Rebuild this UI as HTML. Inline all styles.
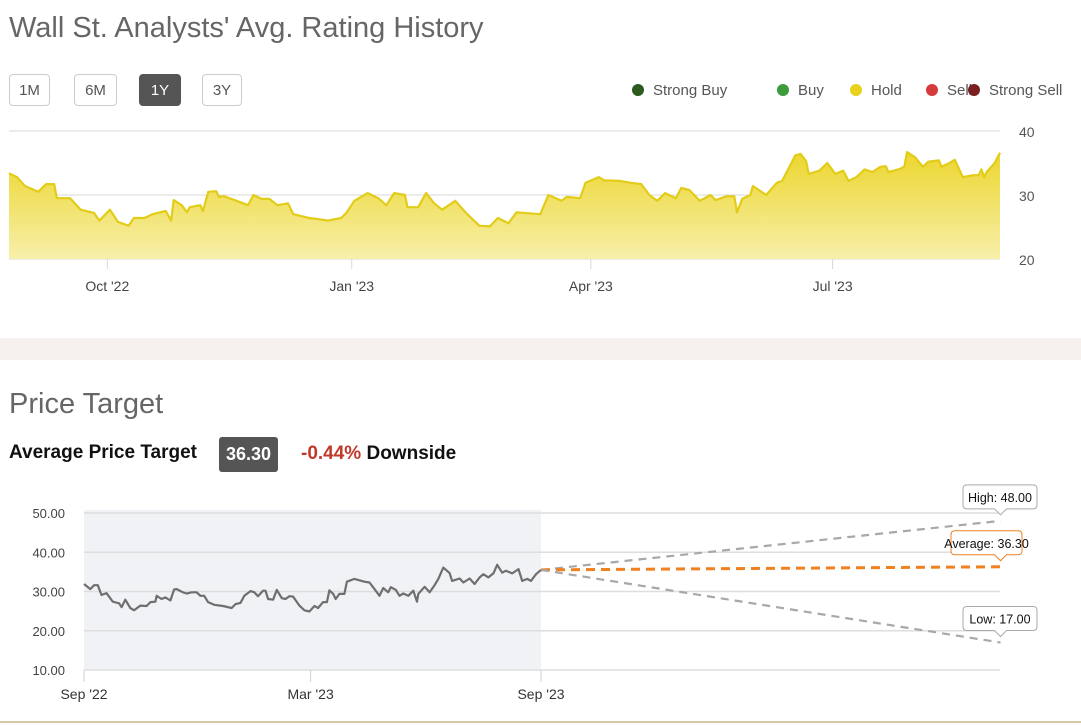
<!DOCTYPE html>
<html><head><meta charset="utf-8">
<style>
body{margin:0;width:1081px;height:725px;background:#fff;font-family:"Liberation Sans",sans-serif;position:relative;overflow:hidden}
.abs{position:absolute}
.title{font-size:29px;color:#666;left:9px;white-space:nowrap}
.btn{position:absolute;top:74px;height:32px;border:1px solid #ccc;border-radius:4px;font-size:15px;color:#555;text-align:center;line-height:32px;box-sizing:border-box;background:#fff}
.btn.on{background:#555;color:#fff;border-color:#555}
.leg{position:absolute;top:82px;font-size:15px;color:#555;white-space:nowrap}
.leg i{display:inline-block;width:12px;height:12px;border-radius:50%;margin-right:9px;vertical-align:-1px}
svg text{font-family:"Liberation Sans",sans-serif}
</style></head><body>
<div class="abs title" style="top:12px">Wall St. Analysts' Avg. Rating History</div>
<div class="btn" style="left:9px;width:41px">1M</div>
<div class="btn" style="left:74px;width:43px">6M</div>
<div class="btn on" style="left:139px;width:42px">1Y</div>
<div class="btn" style="left:202px;width:40px">3Y</div>
<div class="leg" style="left:632px"><i style="background:#2c5a1f"></i>Strong Buy</div>
<div class="leg" style="left:777px"><i style="background:#3d9a3d"></i>Buy</div>
<div class="leg" style="left:850px"><i style="background:#e8d21e"></i>Hold</div>
<div class="leg" style="left:926px"><i style="background:#d63a3a"></i>Sell</div>
<div class="leg" style="left:968px"><i style="background:#7a1f1f"></i>Strong Sell</div>

<svg class="abs" style="left:0;top:0" width="1081" height="330" id="top">
<defs><linearGradient id="yg" x1="0" y1="0" x2="0" y2="1"><stop offset="0" stop-color="#ecd62e"/><stop offset="1" stop-color="#f7efaa"/></linearGradient></defs>
</svg>

<div class="abs" style="left:0;top:338px;width:1081px;height:22px;background:#f6f0ef"></div>
<div class="abs title" style="top:388px">Price Target</div>
<div class="abs" style="left:9px;top:442px;font-size:19px;font-weight:bold;color:#111">Average Price Target</div>
<div class="abs" style="left:219px;top:437px;width:59px;height:35px;background:#555;border-radius:3px;color:#fff;font-weight:bold;font-size:18px;text-align:center;line-height:35px">36.30</div>
<div class="abs" style="left:301px;top:443px;font-size:19px;font-weight:bold;color:#111;white-space:nowrap"><span style="color:#c0392b">-0.44%</span> Downside</div>

<svg class="abs" style="left:0;top:470px" width="1081" height="250" id="bot"></svg>
<div class="abs" style="left:0;top:721px;width:1081px;height:2px;background:#d9c9a8"></div>

<script>
// ---- Rating history data ----
const ratingDays=[0,3,6,11,14,17,18,23,27,32,34,38,41,45,47,51,54,59,61,62,65,67,68,72,73,75,78,79,81,85,90,92,95,98,101,105,107,113,117,120,125,127,130,135,139,142,145,149,150,154,157,160,163,168,172,177,181,184,188,191,200,203,208,210,215,217,222,224,230,234,238,241,244,247,251,253,256,260,264,266,270,273,274,276,279,280,285,289,291,292,296,298,300,301,305,308,311,314,316,319,322,325,328,330,331,334,336,337,338,341,344,346,350,351,354,356,359,363,365,366,367,368,371,373];
const ratingValues=[33.4,32.8,31.4,30.5,31.7,31.7,29.5,29.5,27.7,27.2,26,27.7,25.8,25.2,26.4,26.4,27,27.5,26,29.2,28.4,27.3,28.1,28.4,27.5,30.5,30.6,29.7,29.8,29.2,28.4,30,29.4,29.4,28.4,28.7,27,26.4,26.2,26,26.4,27.2,29.1,30.3,29.5,28.4,30.3,30,28.1,28.1,30.3,28.7,27.7,29.1,27.2,25.2,25.1,26.4,25.6,27.3,27,30,29.1,29.7,29.5,31.9,32.8,32.3,32.2,31.9,31.7,30,29.1,30.3,29.5,31.1,30.8,29.1,30,29.2,29.8,29.8,27.3,29.4,30,31.4,30,31.9,32.2,33,36.2,36.4,35.3,33.3,33.8,35,33.3,33.8,32.2,32.8,34,33.6,34.4,34.5,33.6,33.9,34.2,34.5,36.7,35.9,34.4,35.2,35.4,34.4,35,35.5,32.8,33.1,33.1,34,32.8,33.6,35,36.6];
const ratingTickLabels=["Oct '22","Jan '23","Apr '23","Jul '23"];
const ratingTickDays=[37,129,219,310];
const ratingYTicks=[20,30,40];

// ---- Price target data ----
const priceDays=[0,5,8,11,14,18,23,28,30,33,37,40,45,50,53,57,58,62,65,69,72,74,79,82,86,90,93,96,99,104,111,118,121,125,128,133,136,139,143,145,147,151,154,158,161,164,167,172,176,180,184,187,191,194,196,199,201,204,208,210,216,224,228,232,236,239,243,245,249,252,255,259,263,266,267,272,276,280,283,287,292,294,300,303,308,312,316,319,323,327,330,334,337,342,347,350,354,357,361,365];
const priceValues=[31.9,30.6,31.6,31.6,29.1,29.6,27.4,27,26,27.9,25.8,25.2,26.4,26.3,27.3,27.4,28.9,28.1,28.5,27.7,30.5,30.6,29.8,29.5,29.8,29.8,28.9,28.9,27.3,26.6,26.3,25.8,26.8,27.1,28.9,30.1,29.8,28.8,30.2,30.2,28.1,27.9,30.4,28.3,28.1,28.8,28.7,26.4,25.2,24.9,26.3,25.8,27.3,27.3,30.3,29.4,28.1,29.4,29.4,32.5,33.2,32.5,32.3,30.6,28.9,30.9,29.8,31.1,30.4,28.9,29.5,28.9,30.2,27.4,29.4,31.2,29.8,31.6,33.2,36.1,34.7,32.7,33.3,32.3,33.3,31.9,33.6,34.4,33.6,34.6,36.8,34.8,35.3,34.6,35.7,32.7,33.2,32.7,34.4,35.5];
const priceXTickLabels=["Sep '22","Mar '23","Sep '23"];
const priceXTickDays=[0,181,365];
const priceYTicks=[10,20,30,40,50];
const targetNames=["High","Average","Low"];
const targetValues=[48,36.3,17];
const projectionEndDay=732;

const NS="http://www.w3.org/2000/svg";
function mk(p,tag,attrs){const e=document.createElementNS(NS,tag);for(const k in attrs)e.setAttribute(k,attrs[k]);p.appendChild(e);return e;}

// ---- top chart ----
(function(){
const s=document.getElementById('top');
const X=d=>9+d*(991/373), Y=v=>259-(v-20)*6.4;
ratingYTicks.forEach(v=>{
 const g=mk(s,'line',{x1:9,x2:1000,y1:Y(v),y2:Y(v),stroke:'#d8d8d8','stroke-width':1});
 
 
 const t=mk(s,'text',{x:1019,y:Y(v)+6,'font-size':14,fill:'#555'});t.textContent=v;
 
 
});
let pts=ratingDays.map((d,i)=>X(d).toFixed(1)+','+Y(ratingValues[i]).toFixed(1));
const area=mk(s,'path',{d:'M'+X(ratingDays[0])+','+Y(20)+' L'+pts.join(' L')+' L'+X(ratingDays[ratingDays.length-1])+','+Y(20)+' Z',fill:'url(#yg)'});


const ln=mk(s,'polyline',{points:pts.join(' '),fill:'none',stroke:'#e2cc18','stroke-width':2.2,'stroke-linejoin':'round'});


ratingTickDays.forEach((d,i)=>{
 const tk=mk(s,'line',{x1:X(d),x2:X(d),y1:259,y2:269,stroke:'#d8d8d8'});
 
 
 const t=mk(s,'text',{x:X(d),y:291,'font-size':14,fill:'#444','text-anchor':'middle'});t.textContent=ratingTickLabels[i];
 
 
});
})();

// ---- bottom chart ----
(function(){
const s=document.getElementById('bot');const o=470;
const X=d=>84+d*(457/365), Y=v=>(670-o)-(v-10)*3.925;
const bg=mk(s,'rect',{x:84,y:Y(50.8),width:X(365)-84,height:Y(10)-Y(50.8),fill:'#f1f2f6'});


priceYTicks.forEach(v=>{
 const g=mk(s,'line',{x1:84,x2:1000,y1:Y(v),y2:Y(v),stroke:'#dedede','stroke-width':1.5});
 
 
 const t=mk(s,'text',{x:65,y:Y(v)+5,'font-size':13,fill:'#444','text-anchor':'end'});t.textContent=v.toFixed(2);
 
 
});
priceXTickDays.forEach((d,i)=>{
 const tk=mk(s,'line',{x1:X(d),x2:X(d),y1:Y(10),y2:Y(10)+12,stroke:'#d0d0d0'});
 
 
 const t=mk(s,'text',{x:X(d),y:229,'font-size':14,fill:'#333','text-anchor':'middle'});t.textContent=priceXTickLabels[i];
 
 
});
const last=priceValues[priceValues.length-1], lastD=priceDays[priceDays.length-1];
const cols=['#a8a8a8','#f08020','#a8a8a8'];
targetValues.forEach((v,i)=>{
 const l=mk(s,'line',{x1:X(lastD),y1:Y(last),x2:X(projectionEndDay),y2:Y(v),stroke:cols[i],'stroke-width':i==1?3:2.2,'stroke-dasharray':i==1?'9,6':'8,6'});
 
 
});
const pl=mk(s,'polyline',{points:priceDays.map((d,i)=>X(d).toFixed(1)+','+Y(priceValues[i]).toFixed(1)).join(' '),fill:'none',stroke:'#6f6f6f','stroke-width':2.2,'stroke-linejoin':'round'});


// callouts
targetValues.forEach((v,i)=>{
 const label=targetNames[i]+': '+v.toFixed(2);
 const w=i==1?71:74, cx=X(projectionEndDay), tipY=Y(v)-4;
 const by=tipY-8-24, bx=i==1?951:963;
 const g=mk(s,'g',{});
 
 
 mk(g,'path',{d:`M${bx+4},${by} H${bx+w-4} Q${bx+w},${by} ${bx+w},${by+4} V${by+20} Q${bx+w},${by+24} ${bx+w-4},${by+24} H${cx+6} L${cx},${by+30} L${cx-6},${by+24} H${bx+4} Q${bx},${by+24} ${bx},${by+20} V${by+4} Q${bx},${by} ${bx+4},${by} Z`,fill:'#fff',stroke:i==1?'#f08020':'#aaa','stroke-width':1});
 const t=mk(g,'text',{x:bx+w/2,y:by+17,'font-size':12.5,fill:'#111','text-anchor':'middle'});t.textContent=label;
});
})();
</script>
</body></html>
